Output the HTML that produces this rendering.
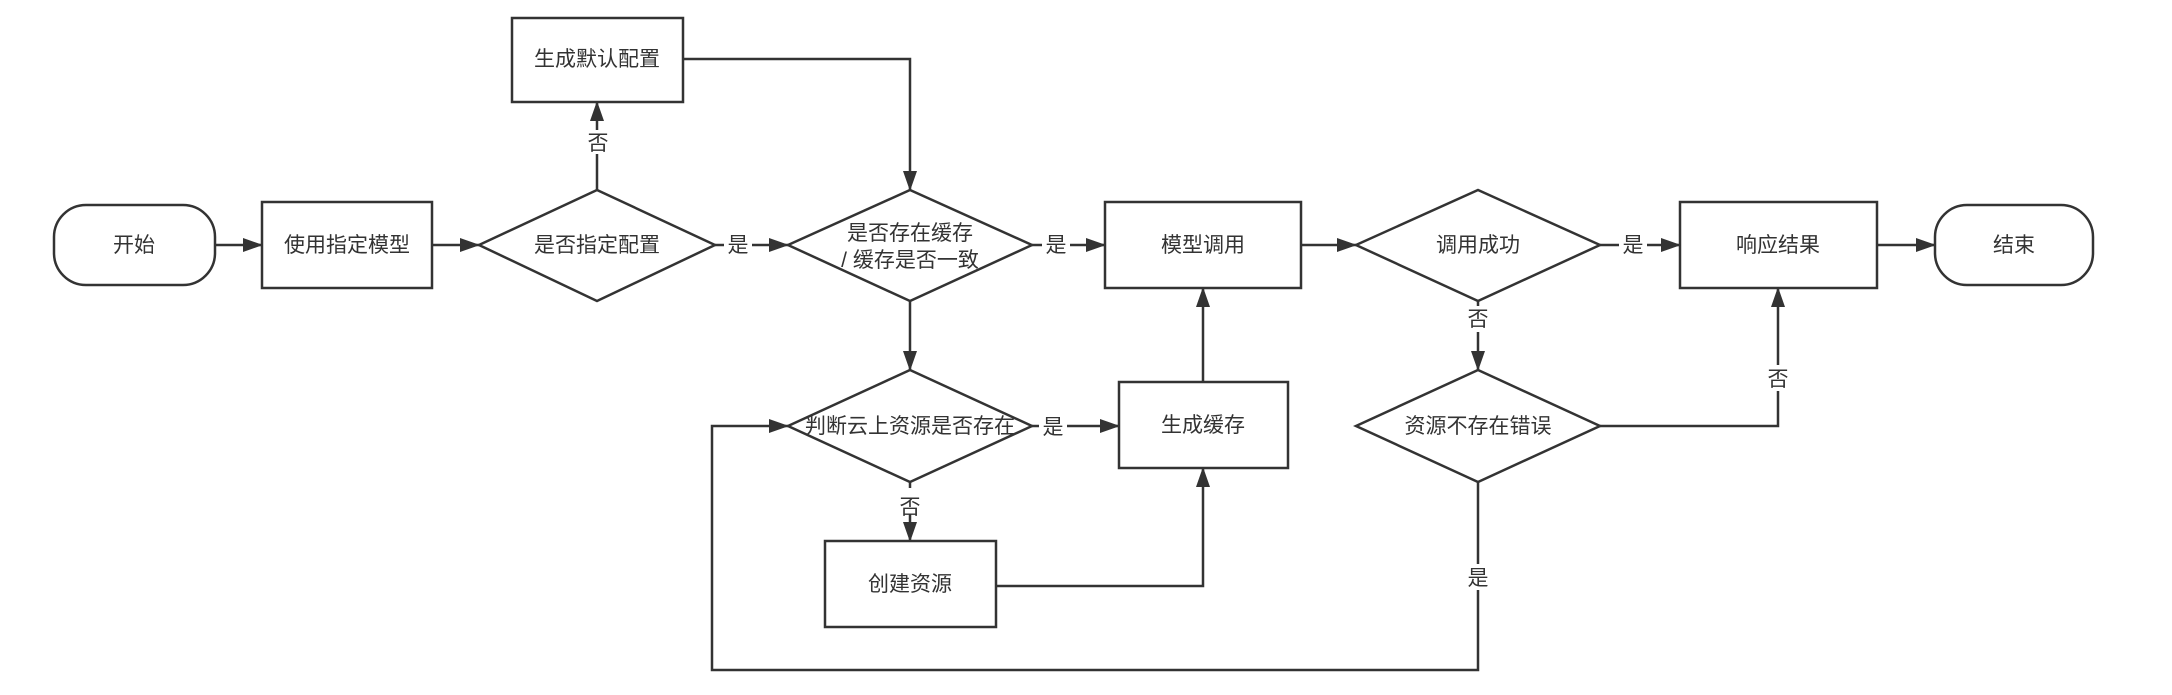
<!DOCTYPE html>
<html><head><meta charset="utf-8"><style>
html,body{margin:0;padding:0;background:#fff;}
svg text{font-family:"Liberation Sans","Noto Sans CJK SC",sans-serif;font-size:21px;fill:#333;}
</style></head><body>
<svg width="2172" height="690" viewBox="0 0 2172 690" xmlns="http://www.w3.org/2000/svg">
<defs><marker id="a" markerWidth="20" markerHeight="14" refX="19" refY="7" orient="auto" markerUnits="userSpaceOnUse"><path d="M0,0 L20,7 L0,14 z" fill="#333"/></marker></defs>
<g fill="#fff" stroke="#333" stroke-width="2.5">
<rect x="54" y="205" width="161" height="80" rx="32"/>
<rect x="262" y="202" width="170" height="86"/>
<polygon points="479,245 597,190 715,245 597,301"/>
<rect x="512" y="18" width="171" height="84"/>
<polygon points="788,245 910,190 1032,245 910,301"/>
<rect x="1105" y="202" width="196" height="86"/>
<polygon points="1356,245 1478,190 1600,245 1478,301"/>
<rect x="1680" y="202" width="197" height="86"/>
<rect x="1935" y="205" width="158" height="80" rx="32"/>
<polygon points="788,426 910,370 1032,426 910,482"/>
<rect x="1119" y="382" width="169" height="86"/>
<rect x="825" y="541" width="171" height="86"/>
<polygon points="1356,426 1478,370 1600,426 1478,482"/>
</g>
<g fill="none" stroke="#333" stroke-width="2.5" marker-end="url(#a)">
<path d="M215,245 H262"/>
<path d="M432,245 H479"/>
<path d="M715,245 H788"/>
<path d="M597,190 V102"/>
<path d="M683,59 H910 V190"/>
<path d="M1032,245 H1105"/>
<path d="M1301,245 H1356"/>
<path d="M1600,245 H1680"/>
<path d="M1877,245 H1935"/>
<path d="M910,301 V370"/>
<path d="M1032,426 H1119"/>
<path d="M1203,382 V288"/>
<path d="M910,482 V541"/>
<path d="M996,586 H1203 V468"/>
<path d="M1478,301 V370"/>
<path d="M1600,426 H1778 V288"/>
<path d="M1478,482 V670 H712 V426 H788"/>
</g>
<g fill="#fff">
<rect x="724" y="233" width="28" height="24"/>
<rect x="1042" y="233" width="28" height="24"/>
<rect x="1619" y="233" width="28" height="24"/>
<rect x="1039" y="415" width="28" height="24"/>
<rect x="584" y="130" width="28" height="24"/>
<rect x="896" y="488" width="28" height="26"/>
<rect x="1464" y="306" width="28" height="26"/>
<rect x="1764" y="365" width="28" height="26"/>
<rect x="1464" y="564" width="28" height="26"/>
</g>
<g text-anchor="middle">
<text x="134" y="252">开始</text>
<text x="347" y="252">使用指定模型</text>
<text x="597" y="252">是否指定配置</text>
<text x="597" y="66">生成默认配置</text>
<text x="910" y="240">是否存在缓存</text>
<text x="910" y="267">/ 缓存是否一致</text>
<text x="1203" y="252">模型调用</text>
<text x="1478" y="252">调用成功</text>
<text x="1778" y="252">响应结果</text>
<text x="2014" y="252">结束</text>
<text x="910" y="433">判断云上资源是否存在</text>
<text x="1203" y="432">生成缓存</text>
<text x="910" y="591">创建资源</text>
<text x="1478" y="433">资源不存在错误</text>
<text x="738" y="252">是</text>
<text x="1056" y="252">是</text>
<text x="1633" y="252">是</text>
<text x="1053" y="434">是</text>
<text x="598" y="150">否</text>
<text x="910" y="514">否</text>
<text x="1478" y="326">否</text>
<text x="1778" y="386">否</text>
<text x="1478" y="585">是</text>
</g>
</svg>
</body></html>
